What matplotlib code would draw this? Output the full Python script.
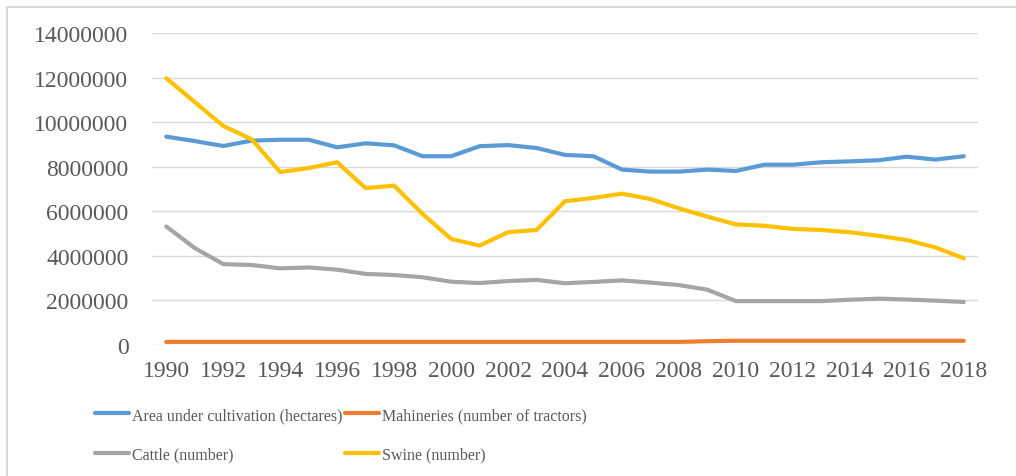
import matplotlib
matplotlib.use("Agg")
import matplotlib.pyplot as plt
from matplotlib.patches import Rectangle

years = list(range(1990, 2019))
area = [9350000, 9150000, 8930000, 9170000, 9210000, 9210000, 8870000, 9050000, 8960000,
        8470000, 8470000, 8920000, 8970000, 8840000, 8530000, 8470000, 7870000, 7780000,
        7780000, 7870000, 7810000, 8090000, 8090000, 8200000, 8240000, 8290000, 8450000,
        8320000, 8470000]
tractors = [140000] * 19 + [170000, 190000, 190000, 190000, 190000, 190000, 190000, 190000,
                            190000, 190000]
cattle = [5320000, 4350000, 3630000, 3590000, 3440000, 3480000, 3380000, 3190000, 3140000,
          3040000, 2840000, 2780000, 2870000, 2920000, 2770000, 2830000, 2900000, 2800000,
          2690000, 2480000, 1970000, 1970000, 1970000, 1970000, 2030000, 2080000, 2040000,
          1990000, 1930000]
swine = [11970000, 10900000, 9830000, 9230000, 7760000, 7940000, 8200000, 7040000, 7150000,
         5880000, 4760000, 4460000, 5060000, 5160000, 6450000, 6600000, 6790000, 6550000,
         6130000, 5760000, 5410000, 5350000, 5210000, 5160000, 5060000, 4900000, 4710000,
         4380000, 3890000]

labels = ["Area under cultivation (hectares)", "Mahineries (number of tractors)",
          "Cattle (number)", "Swine (number)"]
colors = ["#5b9bd5", "#ed7d31", "#a5a5a5", "#ffc000"]
yticks = list(range(0, 14000001, 2000000))
xticks = list(range(1990, 2019, 2))

plt.rcParams['font.family'] = ['Liberation Serif', 'DejaVu Serif']
txt = "#595959"

fig = plt.figure(figsize=(10.16, 4.77), dpi=100)
fig.patches.append(Rectangle((7 / 1016, -0.05), 1.2, (477 - 8) / 477 + 0.05,
                             transform=fig.transFigure, fill=False,
                             edgecolor="#d9d9d9", linewidth=1.5))
ax = fig.add_axes([152 / 1016, 1 - 346 / 477, (978 - 152) / 1016, (346 - 34) / 477])

series = [area, tractors, cattle, swine]
lines = []
for s, c, l in zip(series, colors, labels):
    ln, = ax.plot(years, s, color=c, linewidth=3, label=l, solid_capstyle="round",
                  solid_joinstyle="round")
    lines.append(ln)

ax.set_xlim(1989.5, 2018.5)
ax.set_ylim(0, 14000000)
ax.set_yticks(yticks)
ax.set_yticklabels([str(v) for v in yticks])
ax.set_xticks(xticks)
ax.set_xticklabels([str(v) for v in xticks])
ax.grid(axis="y", color="#d9d9d9", linewidth=1)
ax.set_axisbelow(True)
for sp in ["top", "right", "left", "bottom"]:
    ax.spines[sp].set_visible(False)
ax.tick_params(axis="both", length=0, labelsize=17, colors=txt)
ax.tick_params(axis="y", pad=17)
ax.tick_params(axis="x", pad=11)

order = [0, 2, 1, 3]
leg = fig.legend(handles=[lines[i] for i in order], labels=[labels[i] for i in order],
                 ncol=2, loc="upper left", bbox_to_anchor=(95 / 1016, 1 - 408 / 477),
                 frameon=False, fontsize=11.5, handlelength=2.1, handletextpad=0.2,
                 columnspacing=0.2, labelspacing=1.45, labelcolor=txt,
                 borderpad=0, borderaxespad=0)

fig.savefig("out.png", dpi=100)
